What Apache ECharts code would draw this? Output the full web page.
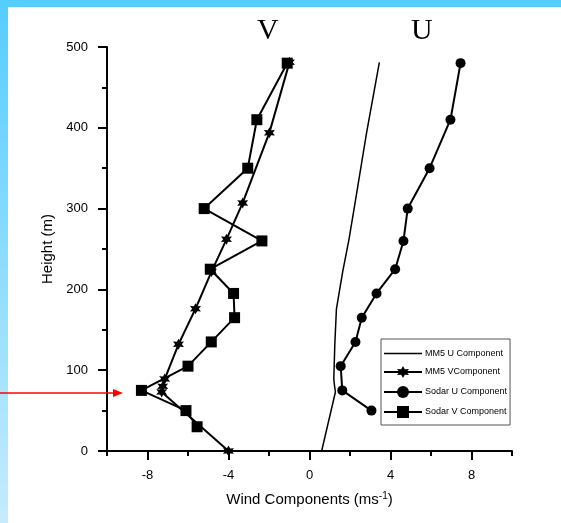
<!DOCTYPE html>
<html><head><meta charset="utf-8">
<script src="https://cdn.jsdelivr.net/npm/echarts@6/dist/echarts.min.js"></script>
<style>html,body{margin:0;padding:0;background:#fff}#c{width:561px;height:523px}</style>
</head><body><div id="c"></div>
<script>
// ---- data ----
const mm5Heights = [0, 73, 80, 89, 132, 176, 222, 262, 307, 394, 481];
const mm5U = [0.6, 1.28, 1.24, 1.2, 1.25, 1.33, 1.64, 1.95, 2.25, 2.82, 3.45];
const mm5V = [-4.0, -7.3, -7.25, -7.15, -6.47, -5.63, -4.84, -4.1, -3.3, -1.98, -0.99];
const sodarVHeights = [30, 50, 75, 105, 135, 165, 195, 225, 260, 300, 350, 410, 480];
const sodarV = [-5.55, -6.1, -8.3, -6.0, -4.85, -3.7, -3.75, -4.9, -2.35, -5.2, -3.05, -2.6, -1.1];
const sodarUHeights = [50, 75, 105, 135, 165, 195, 225, 260, 300, 350, 410, 480];
const sodarU = [3.06, 1.62, 1.54, 2.27, 2.58, 3.31, 4.23, 4.64, 4.85, 5.93, 6.96, 7.46];
const xMajorTicks = [-8, -4, 0, 4, 8];
const xMinorTicks = [-10, -6, -2, 2, 6, 10];
const seriesNames = ['MM5 U Component', 'MM5 VComponent', 'Sodar U Component', 'Sodar V Component'];

function pairs(xs, hs) { return hs.map((h, i) => [xs[i], h]); }

// six-pointed star symbol
function starPath() {
  let d = '';
  for (let k = 0; k < 12; k++) {
    const r = k % 2 === 0 ? 50 : 26;
    const a = (-90 + 30 * k) * Math.PI / 180;
    const x = (50 + r * Math.cos(a)).toFixed(2), y = (50 + r * Math.sin(a)).toFixed(2);
    d += (k === 0 ? 'M' : 'L') + x + ' ' + y + ' ';
  }
  return 'path://' + d + 'Z';
}
const STAR = starPath();

const chart = echarts.init(document.getElementById('c'), null, {renderer: 'canvas'});
const font = 'Liberation Sans, Arial, sans-serif';
const lineStyle = {color: '#000', width: 2};

chart.setOption({
  backgroundColor: '#fff',
  animation: false,
  grid: {left: 107, right: 49, top: 47, bottom: 72},
  legend: {
    data: [
      {name: seriesNames[0], icon: 'path://M0 0 H100 V4 H0 Z'},
      seriesNames[1], seriesNames[2], seriesNames[3]
    ],
    orient: 'vertical',
    left: 381, top: 339,
    padding: [10, 3, 7, 2],
    itemWidth: 38, itemHeight: 15, itemGap: 8,
    borderColor: '#555', borderWidth: 1,
    textStyle: {fontFamily: 'Liberation Sans, Arial', fontSize: 9, color: '#000', padding: [0,0,0,-2]}
  },
  xAxis: [{
    type: 'value', min: -10, max: 10,
    name: 'Wind Components (ms{sup|-1})', nameLocation: 'middle', nameGap: 40,
    nameTextStyle: {fontFamily: font, fontSize: 15, color: '#000',
      rich: {sup: {fontFamily: font, fontSize: 10, color: '#000', verticalAlign: 'top', padding: [0, 0, 8, 0]}}},
    axisLine: {show: true, onZero: false, lineStyle: lineStyle},
    axisTick: {show: true, length: 9, lineStyle: lineStyle, customValues: xMajorTicks},
    axisLabel: {customValues: xMajorTicks, margin: 18, fontFamily: font, fontSize: 13, color: '#000'},
    splitLine: {show: false}
  }, {
    type: 'value', min: -10, max: 10, position: 'bottom',
    axisLine: {show: false, onZero: false},
    axisTick: {show: true, length: 5, lineStyle: lineStyle, customValues: xMinorTicks},
    axisLabel: {show: false},
    splitLine: {show: false}
  }],
  yAxis: {
    type: 'value', min: 0, max: 500, interval: 100,
    name: 'Height (m)', nameLocation: 'middle', nameGap: 52,
    nameTextStyle: {fontFamily: font, fontSize: 15, color: '#000'},
    axisLine: {show: true, onZero: false, lineStyle: lineStyle},
    axisTick: {show: true, length: 9, lineStyle: lineStyle},
    minorTick: {show: true, splitNumber: 2, length: 5, lineStyle: lineStyle},
    axisLabel: {margin: 19, fontFamily: font, fontSize: 13, color: '#000'},
    splitLine: {show: false}
  },
  series: [{
    name: seriesNames[0], type: 'line', data: pairs(mm5U, mm5Heights),
    showSymbol: false, symbol: 'none', lineStyle: {color: '#000', width: 1.5}, itemStyle: {color: '#000'}
  }, {
    name: seriesNames[1], type: 'line', data: pairs(mm5V, mm5Heights),
    symbol: STAR, symbolSize: 11, lineStyle: {color: '#000', width: 2}, itemStyle: {color: '#000'}
  }, {
    name: seriesNames[2], type: 'line', data: pairs(sodarU, sodarUHeights),
    symbol: 'circle', symbolSize: 10, lineStyle: {color: '#000', width: 2}, itemStyle: {color: '#000'}
  }, {
    name: seriesNames[3], type: 'line', data: pairs(sodarV, sodarVHeights),
    symbol: 'rect', symbolSize: 11, lineStyle: {color: '#000', width: 2}, itemStyle: {color: '#000'}
  }],
  graphic: [
    {type: 'rect', shape: {x: 0, y: 0, width: 561, height: 7}, style: {fill: '#55cdfd'}, z: 100},
    {type: 'rect', shape: {x: 0, y: 0, width: 8, height: 523},
      style: {fill: new echarts.graphic.LinearGradient(0, 0, 0, 1, [{offset: 0, color: '#55cdfd'}, {offset: 1, color: '#c6ebfe'}])}, z: 100},
    {type: 'text', left: 257, top: 16, style: {text: 'V', font: '30px "Liberation Serif", "Times New Roman", serif', fill: '#000'}, z: 100},
    {type: 'text', left: 411, top: 16, style: {text: 'U', font: '30px "Liberation Serif", "Times New Roman", serif', fill: '#000'}, z: 100},
    {type: 'line', shape: {x1: 0, y1: 393, x2: 116, y2: 393}, style: {stroke: '#ff0000', lineWidth: 1.5}, z: 101},
    {type: 'polygon', shape: {points: [[123, 393], [113, 389], [113, 397]]}, style: {fill: '#ff0000'}, z: 101}
  ]
});
</script></body></html>
